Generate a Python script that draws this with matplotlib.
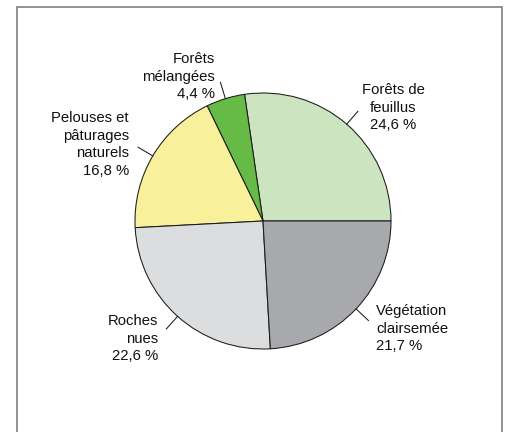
import numpy as np
import matplotlib
matplotlib.use("Agg")
import matplotlib.pyplot as plt

# shares of land cover (%), counter-clockwise from 3 o'clock
categories = ["Forêts de\nfeuillus", "Forêts\nmélangées", "Pelouses et\npâturages\nnaturels",
              "Roches\nnues", "Végétation\nclairsemée"]
shares = [24.6, 4.4, 16.8, 22.6, 21.7]
share_labels = ["24,6 %", "4,4 %", "16,8 %", "22,6 %", "21,7 %"]
colors = ["#cde4c1", "#66bb46", "#f8f09b", "#dcdddf", "#a8a9ac"]

plt.rcParams["font.family"] = ["Liberation Sans", "DejaVu Sans"]

W, H = 513, 432
fig = plt.figure(figsize=(W / 100, H / 100), dpi=100)
ax = fig.add_axes([0, 0, 1, 1])

cx, cy, r = 263, H - 221, 128
wedges, _ = ax.pie(shares, colors=colors, startangle=0, counterclock=True,
                   center=(cx, cy), radius=r,
                   wedgeprops=dict(edgecolor="#1a1a1a", linewidth=0.75))

# label placement: (x, y top in pixels, horizontal align)
label_pos = [(393, 83, "center"), (215, 52, "right"), (129, 111, "right"),
             (158, 314, "right"), (376, 304, "left")]

for w, cat, lab, (tx, ty, ha) in zip(wedges, categories, share_labels, label_pos):
    ang = np.deg2rad((w.theta1 + w.theta2) / 2)
    x0, y0 = cx + r * np.cos(ang), cy + r * np.sin(ang)
    x1, y1 = cx + (r + 17) * np.cos(ang), cy + (r + 17) * np.sin(ang)
    ax.plot([x0, x1], [y0, y1], color="#1a1a1a", lw=0.75)
    ax.text(tx, H - ty, cat + "\n" + lab, ha=ha, va="top", multialignment=ha,
            fontsize=10.7, linespacing=1.32, color="#111111")

# outer frame (open at the bottom)
ax.plot([16.5, 16.5, 501.5, 501.5], [0, H - 6.5, H - 6.5, 0], color="#7f7f7f", lw=1.2,
        solid_joinstyle="miter")

ax.set_xlim(0, W)
ax.set_ylim(0, H)
ax.set_aspect("equal")
ax.axis("off")

fig.savefig("out.png", dpi=100)
